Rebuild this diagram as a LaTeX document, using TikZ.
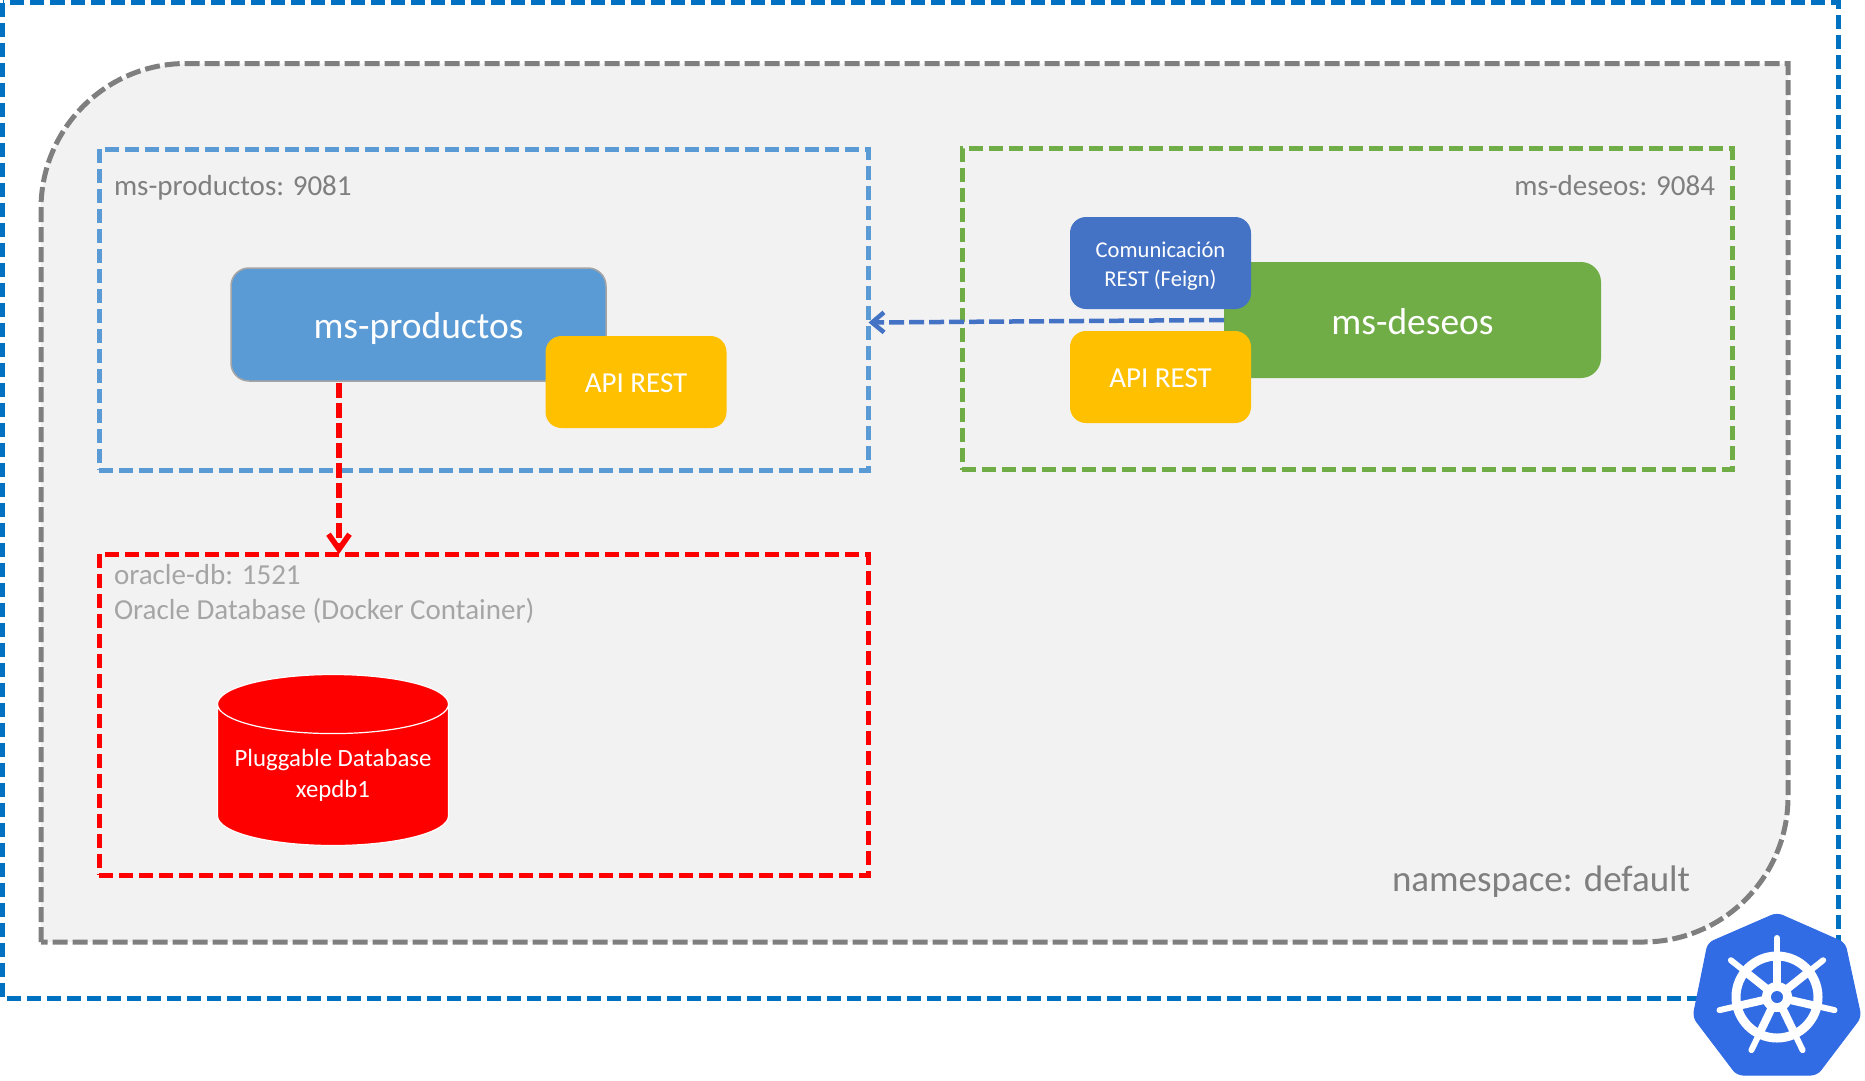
\documentclass[tikz,border=0pt]{standalone}
\usepackage{fontspec}
\setmainfont{Carlito}
\usetikzlibrary{arrows.meta,shapes.geometric}
\definecolor{nsgrey}{HTML}{7F7F7F}
\definecolor{nsfill}{HTML}{F2F2F2}
\definecolor{k8sblue}{HTML}{0070C0}
\definecolor{k8slogo}{HTML}{326CE5}
\definecolor{msblue}{HTML}{5B9BD5}
\definecolor{msgreen}{HTML}{70AD47}
\definecolor{msamber}{HTML}{FFC000}
\definecolor{feignblue}{HTML}{4472C4}
\definecolor{dbgrey}{HTML}{A5A5A5}
\tikzset{
 dashbox/.style={draw=#1, line width=5pt, dash pattern=on 14pt off 6pt, minimum width=769.5pt, minimum height=321pt, inner sep=0pt, outer sep=0pt},
 service/.style={fill=#1, text=white, inner sep=0pt, outer sep=0pt, align=center},
 apibox/.style={service=msamber, minimum width=181pt, minimum height=92pt, rounded corners=16pt, text height=21pt, text depth=0pt, font=\fontsize{29}{34}\selectfont},
 caption/.style={text=nsgrey, inner sep=0pt, outer sep=0pt, font=\fontsize{29}{34}\selectfont},
 link/.style={draw=#1, line width=4.5pt, dash pattern=on 15pt off 5pt, -{Straight Barb[length=12pt,width=20pt]}}
}
\begin{document}
\begin{tikzpicture}[x=1pt, y=-1pt]
 \useasboundingbox (0,0) rectangle (1865,1080);
 % outer cluster and namespace
 \draw[k8sblue, line width=5pt, dash pattern=on 14pt off 6pt] (2.5,2.5) rectangle (1838,998);
 \draw[nsgrey, fill=nsfill, line width=5pt, dash pattern=on 15pt off 5pt]
  (41,942) [rounded corners=145pt] -- (41,63.5) [sharp corners] -- (1788,63.5) [rounded corners=145pt] -- (1788,942) [sharp corners] -- cycle;
 \node[caption, anchor=east, font=\fontsize{37}{44}\selectfont] (nslabel) at (1690,881.5) {namespace: default};

 % dashed boxes
 \node[dashbox=msblue] (boxproductos) at (483.75,309.5) {};
 \node[dashbox=msgreen, minimum width=770pt] (boxdeseos) at (1347,309.25) {};
 \node[dashbox=red] (boxoracle) at (483.75,714.5) {};
 \node[caption, anchor=west] (lblproductos) at (114,187.5) {ms-productos: 9081};
 \node[caption, anchor=east] (lbldeseos) at (1715,185.5) {ms-deseos: 9084};
 \node[caption, anchor=west, text=dbgrey] (lbloracle) at (114,574.5) {oracle-db: 1521};
 \node[caption, anchor=west, text=dbgrey] (lbldocker) at (114,611) {Oracle Database (Docker Container)};

 % services
 \node[service=msblue, draw=dbgrey, line width=1.5pt, minimum width=375pt, minimum height=113pt, rounded corners=18pt, text height=27.6pt, text depth=0pt, font=\fontsize{37.5}{44}\selectfont] (productos) at (418.5,324.5) {ms-productos};
 \node[apibox] (apiproductos) at (636,382) {API REST};
 \node[service=msgreen, minimum width=377pt, minimum height=116pt, rounded corners=20pt, text height=28pt, text depth=0pt, font=\fontsize{37.5}{44}\selectfont] (deseos) at (1412.5,320) {ms-deseos};
 \node[service=feignblue, minimum width=181pt, minimum height=92pt, rounded corners=16pt, text height=50pt, font=\fontsize{22.6}{28.5}\selectfont] (feign) at (1160.5,263) {Comunicación\\REST (Feign)};
 \node[apibox] (apideseos) at (1160.5,377) {API REST};

 % database
 \node[cylinder, shape border rotate=90, aspect=0.3, anchor=shape center, draw=white, line width=1.2pt, cylinder uses custom fill, cylinder body fill=red, cylinder end fill=red, minimum width=231pt, minimum height=171pt, inner sep=0pt, outer sep=0pt, text=white, align=center, font=\fontsize{24.8}{31}\selectfont] (pdb) at (333,760) {Pluggable Database\\xepdb1};

 % connectors
 \draw[link=feignblue] (deseos.west) -- ([yshift=-2.5pt]deseos.west -| boxproductos.east);
 \draw[link=red, line width=5.5pt, -{Straight Barb[length=15pt,width=21pt]}] ([xshift=-79.5pt,yshift=-2pt]productos.south) -- ([xshift=-79.5pt]productos.south |- boxoracle.north);

 % logo
 \draw[fill=k8slogo, draw=k8slogo, line width=1pt, rounded corners=6pt]
  (1777,913) -- (1845,943) -- (1861,1017) -- (1817,1075) -- (1737,1075) -- (1693,1017) -- (1708,943) -- cycle;
 \coordinate (wheel) at (1777,997);
 \draw[white, line width=9pt] (wheel) circle[radius=41pt];
 \foreach \ang in {90,38.57,-12.86,-64.29,-115.71,-167.14,141.43} {
  \draw[white, line width=8pt] (wheel) -- ++(\ang:40pt);
  \draw[white, line width=6pt, line cap=round] (wheel) ++(\ang:40pt) -- ++(\ang:19pt);
 }
 \fill[white] (wheel) circle[radius=15pt];
 \fill[k8slogo] (wheel) circle[radius=6pt];
\end{tikzpicture}
\end{document}
